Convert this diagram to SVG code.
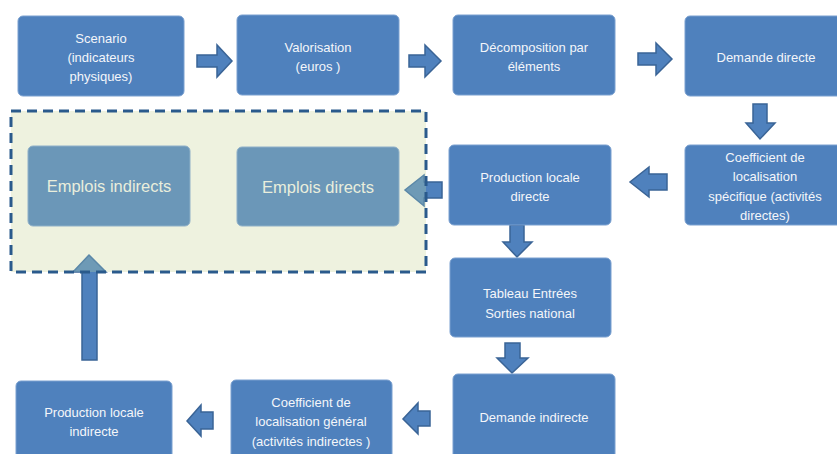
<svg xmlns="http://www.w3.org/2000/svg" width="837" height="454" viewBox="0 0 837 454">
<style>
.box{fill:#4f81bd;stroke:#7aa0d0;stroke-width:1}
.emp{fill:#6b97b8;stroke:#8fb0c8;stroke-width:1}
.t{font-family:"Liberation Sans",Arial,sans-serif;font-size:13px;fill:#f4f6fa;text-anchor:middle}
.te{font-family:"Liberation Sans",Arial,sans-serif;font-size:16.5px;fill:#e9eedc;text-anchor:middle}
.arr{fill:#4f81bd;stroke:#3a6496;stroke-width:1.5;stroke-linejoin:miter}
.arrt{fill:#6e9ab6;stroke:#5b88a8;stroke-width:1.5;stroke-linejoin:miter}
.cont{fill:#eef2df;stroke:none}
.contb{fill:none;stroke:#2a5a8c;stroke-width:3;stroke-dasharray:10,6}
</style>
<defs>
<clipPath id="inside"><rect x="11" y="111" width="415" height="161"/></clipPath>
</defs>
<rect width="837" height="454" fill="#ffffff"/>
<g id="connectors">
<polygon class="arr" points="197,55 217,55 217,45 232,61 217,77 217,67 197,67"/>
<polygon class="arr" points="409,55 425,55 425,45 441,61 425,77 425,67 409,67"/>
<polygon class="arr" points="638,53 656,53 656,43 672,59 656,75 656,65 638,65"/>
<polygon class="arr" points="753,104 767,104 767,123 775,123 760,139 746,123 753,123"/>
<polygon class="arr" points="667,174 649,174 649,167 630,182 649,197 649,190 667,190"/>
<polygon class="arr" points="442,182 424,182 424,175 405,190 424,206 424,198 442,198"/>
<polygon class="arr" points="510,225 524,225 524,242 532,242 517,257 503,242 510,242"/>
<polygon class="arr" points="505,343 520,343 520,358 528,358 512,373 497,358 505,358"/>
<polygon class="arr" points="430,411 418,411 418,403 403,419 418,434 418,426 430,426"/>
<polygon class="arr" points="213,412 201,412 201,405 187,421 201,436 201,429 213,429"/>
<polygon class="arr" points="82,360 82,272 73,272 89,255 106,272 97,272 97,360"/>
</g>
<g id="container">
<rect class="cont" x="11" y="111" width="415" height="161"/>
<g clip-path="url(#inside)">
<polygon class="arrt" points="442,182 424,182 424,175 405,190 424,206 424,198 442,198"/>
<polygon class="arrt" points="82,360 82,272 73,272 89,255 106,272 97,272 97,360"/>
</g>
<rect class="contb" x="11" y="111" width="415" height="161"/>
</g>
<g id="n-emplois-indirects">
<rect class="emp" x="28" y="146" width="162" height="80" rx="5"/>
<text class="te" x="109" y="192">Emplois indirects</text>
</g>
<g id="n-emplois-directs">
<rect class="emp" x="237" y="147" width="162" height="79" rx="5"/>
<text class="te" x="318" y="193">Emplois directs</text>
</g>
<g id="n-scenario">
<rect class="box" x="18" y="16" width="166" height="80" rx="5"/>
<text class="t" x="101" y="43">Scenario</text>
<text class="t" x="101" y="62">(indicateurs</text>
<text class="t" x="101" y="81">physiques)</text>
</g>
<g id="n-valorisation">
<rect class="box" x="237" y="15" width="162" height="80" rx="5"/>
<text class="t" x="318" y="52">Valorisation</text>
<text class="t" x="318" y="71">(euros )</text>
</g>
<g id="n-decomposition">
<rect class="box" x="453" y="15" width="162" height="80" rx="5"/>
<text class="t" x="534" y="52">Décomposition par</text>
<text class="t" x="534" y="71">éléments</text>
</g>
<g id="n-demande-directe">
<rect class="box" x="685" y="16" width="162" height="80" rx="5"/>
<text class="t" x="766" y="62">Demande directe</text>
</g>
<g id="n-coef-specifique">
<rect class="box" x="685" y="145" width="162" height="80" rx="5"/>
<text class="t" x="765" y="162">Coefficient de</text>
<text class="t" x="765" y="181">localisation</text>
<text class="t" x="765" y="201">spécifique (activités</text>
<text class="t" x="765" y="220">directes)</text>
</g>
<g id="n-production-directe">
<rect class="box" x="449" y="145" width="162" height="80" rx="5"/>
<text class="t" x="530" y="182">Production locale</text>
<text class="t" x="530" y="201">directe</text>
</g>
<g id="n-tableau">
<rect class="box" x="450" y="258" width="161" height="79" rx="5"/>
<text class="t" x="530" y="298">Tableau Entrées</text>
<text class="t" x="530" y="318">Sorties national</text>
</g>
<g id="n-demande-indirecte">
<rect class="box" x="453" y="374" width="162" height="86" rx="5"/>
<text class="t" x="534" y="422">Demande indirecte</text>
</g>
<g id="n-coef-general">
<rect class="box" x="231" y="380" width="161" height="86" rx="5"/>
<text class="t" x="311" y="407">Coefficient de</text>
<text class="t" x="311" y="426">localisation général</text>
<text class="t" x="311" y="446">(activités indirectes )</text>
</g>
<g id="n-production-indirecte">
<rect class="box" x="16" y="381" width="156" height="86" rx="5"/>
<text class="t" x="94" y="417">Production locale</text>
<text class="t" x="94" y="436">indirecte</text>
</g>
</svg>
